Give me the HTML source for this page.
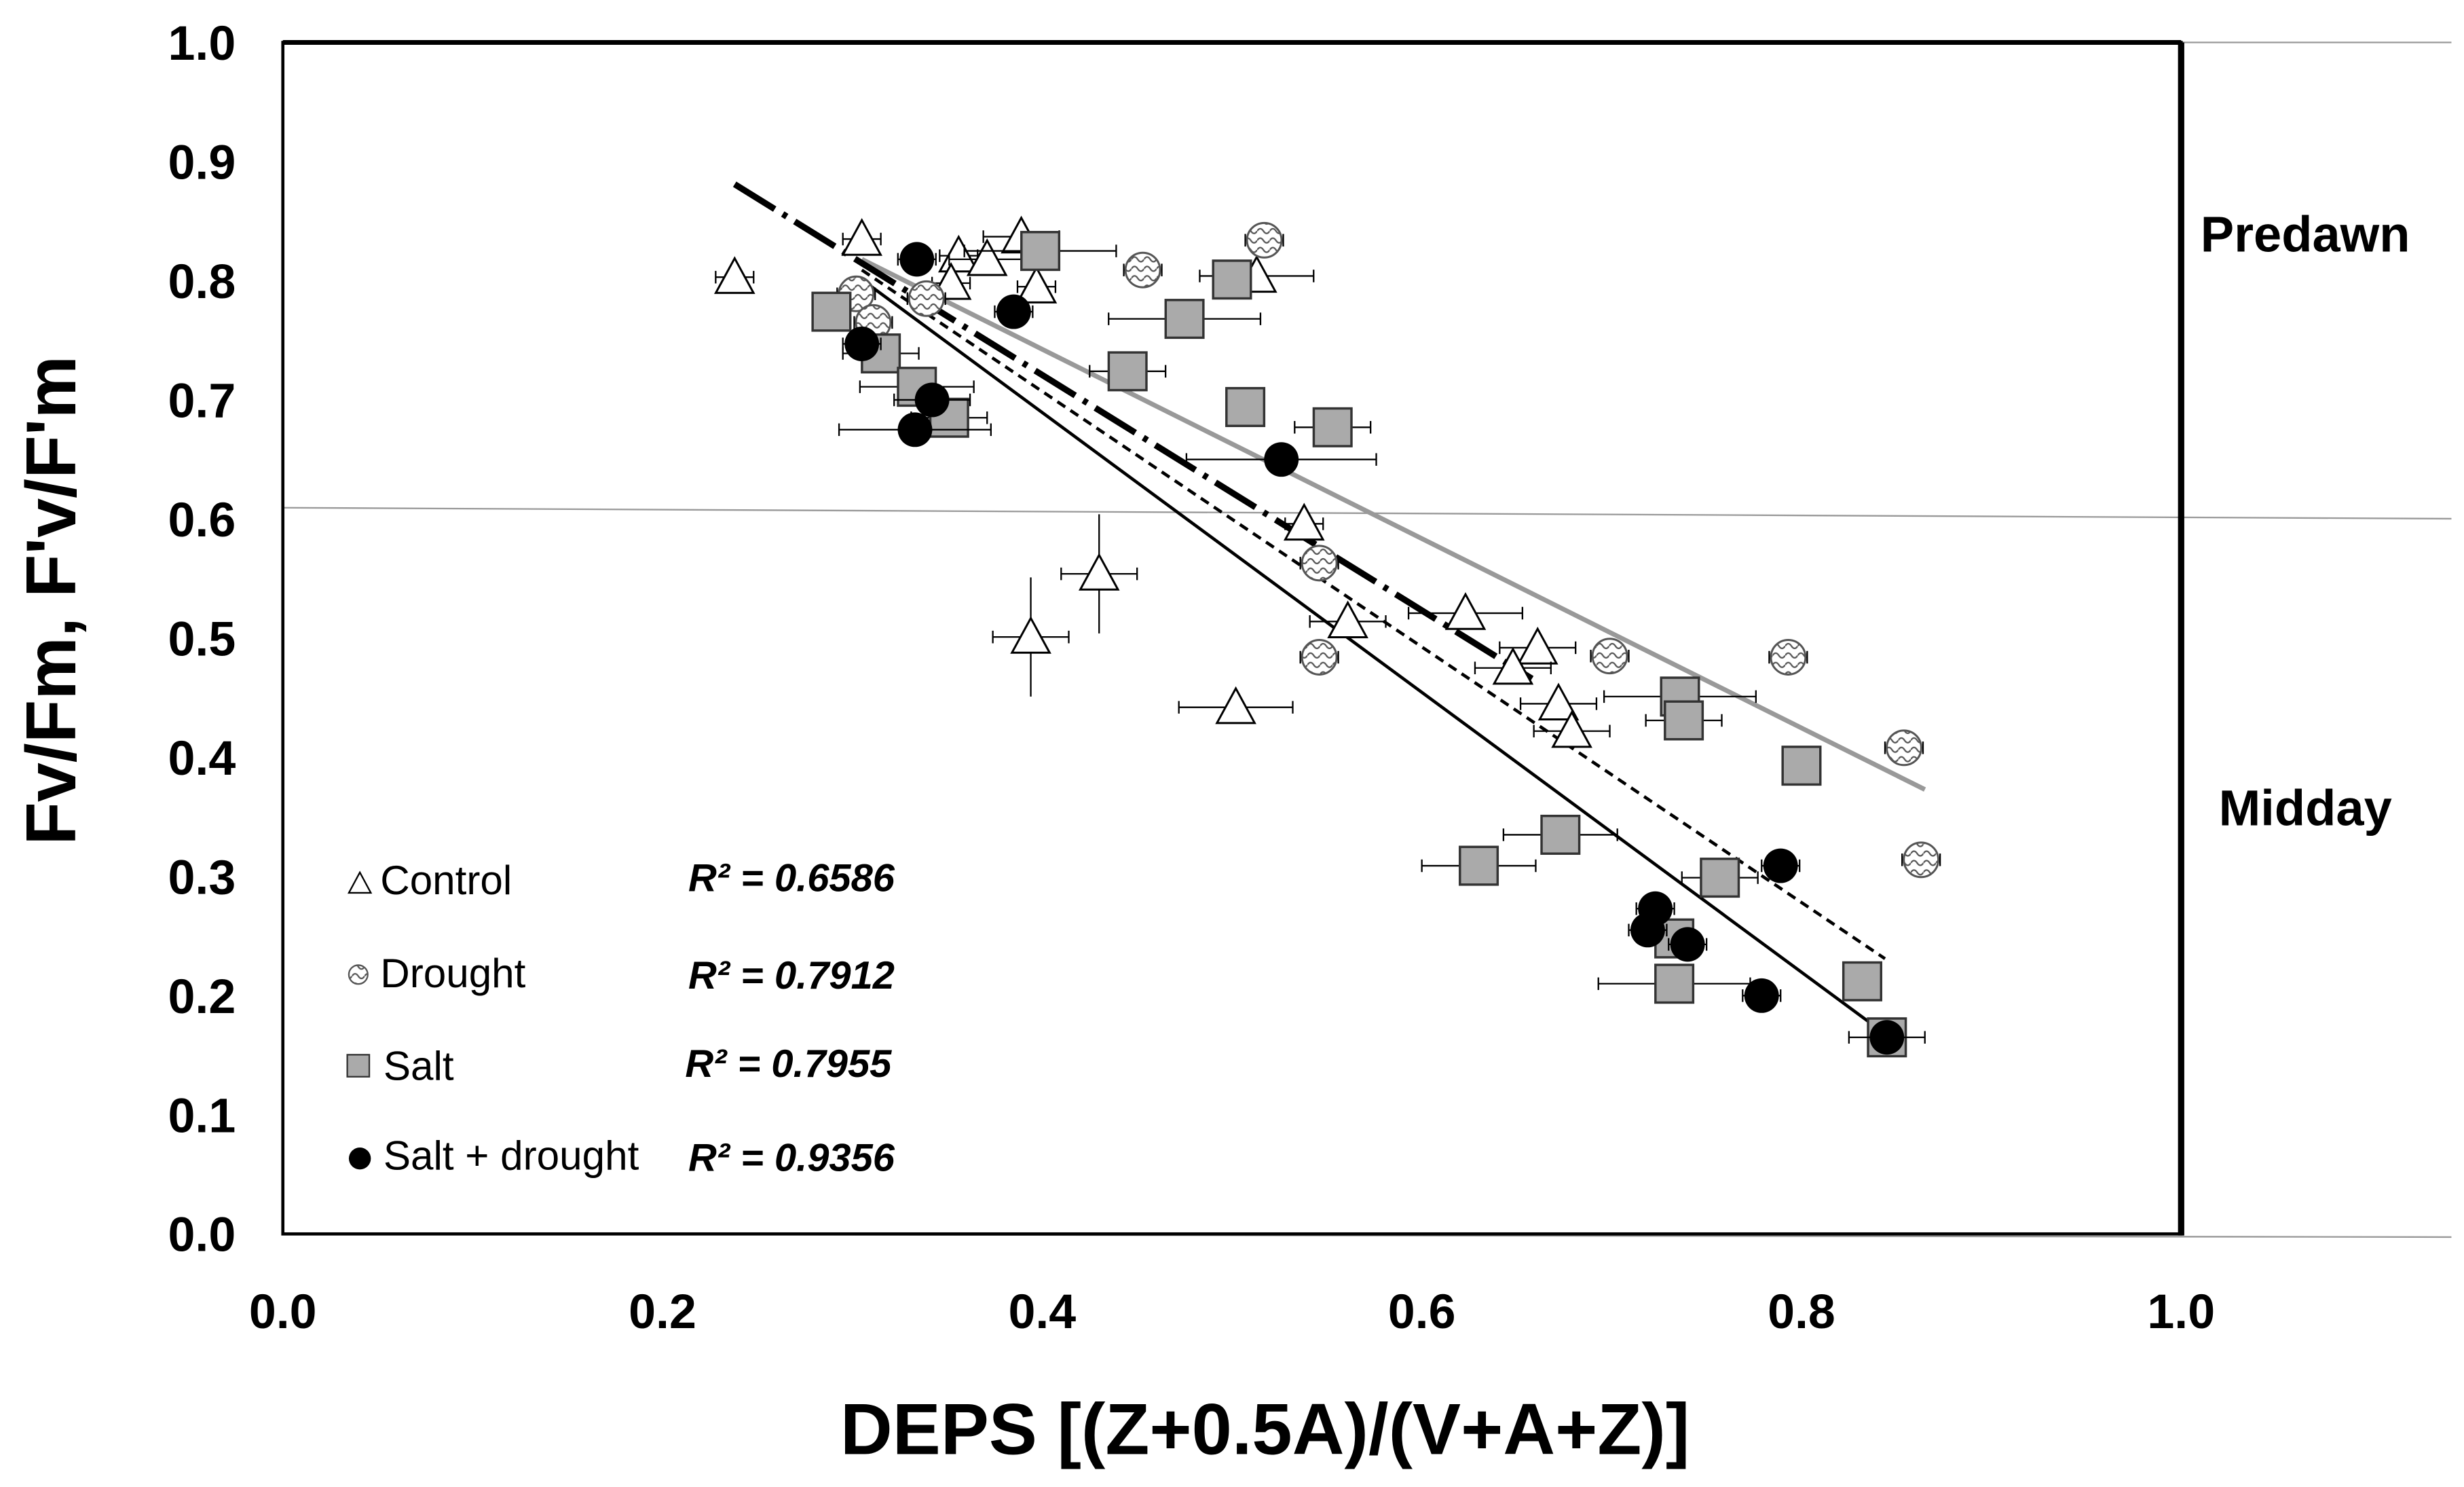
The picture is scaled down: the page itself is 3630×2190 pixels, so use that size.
<!DOCTYPE html>
<html><head><meta charset="utf-8"><style>
html,body{margin:0;padding:0;background:#fff}
svg{display:block}
text{font-family:"Liberation Sans",Arial,sans-serif}
</style></head><body>
<svg id="chart" width="3630" height="2190" viewBox="0 0 1568 946" preserveAspectRatio="none">
<defs>
<pattern id="wave" width="8" height="6" patternUnits="userSpaceOnUse">
<rect width="8" height="6" fill="#fff"/>
<path d="M0 3 Q2 0 4 3 T8 3" fill="none" stroke="#555" stroke-width="1"/>
</pattern>
</defs>
<g id="grid">
<line x1="180" y1="27" x2="1560" y2="27" stroke="#999" stroke-width="1"/>
<line x1="180" y1="323" x2="1560" y2="330" stroke="#999" stroke-width="1"/>
<line x1="180" y1="785" x2="1560" y2="787" stroke="#999" stroke-width="1"/>
</g>
<rect x="180" y="27" width="1208" height="758" fill="none" stroke="#000" stroke-width="2"/>
<line x1="1388" y1="27" x2="1388" y2="786" stroke="#000" stroke-width="4"/>
<line x1="180" y1="27" x2="1388" y2="27" stroke="#000" stroke-width="3"/>
<g id="ticks"></g>
<g id="lines"></g>
<g id="marks"></g>
<text x="805" y="925" text-anchor="middle" font-size="46" font-weight="bold">DEPS [(Z+0.5A)/(V+A+Z)]</text>
<text transform="translate(48,382) rotate(-90)" text-anchor="middle" font-size="45" font-weight="bold">Fv/Fm, F'v/F'm</text>
<text x="1467" y="160" text-anchor="middle" font-size="32" font-weight="bold">Predawn</text>
<text x="1467" y="525" text-anchor="middle" font-size="32" font-weight="bold">Midday</text>
<g id="legend" font-size="26">
<g><polygon points="222,568 229,555 236,568" fill="#fff" stroke="#000"/><text x="242" y="569">Control</text><text x="438" y="567" font-size="25" font-weight="bold" font-style="italic">R² = 0.6586</text></g>
<g><circle cx="228" cy="620" r="6" fill="url(#wave)" stroke="#555"/><text x="242" y="628">Drought</text><text x="438" y="629" font-size="25" font-weight="bold" font-style="italic">R² = 0.7912</text></g>
<g><rect x="221" y="671" width="14" height="14" fill="#aaa" stroke="#333"/><text x="244" y="687">Salt</text><text x="436" y="685" font-size="25" font-weight="bold" font-style="italic">R² = 0.7955</text></g>
<g><circle cx="229" cy="737" r="7" fill="#000"/><text x="244" y="744">Salt + drought</text><text x="438" y="745" font-size="25" font-weight="bold" font-style="italic">R² = 0.9356</text></g>
</g>
</svg>
<script>
const xTicks=[0,0.2,0.4,0.6,0.8,1.0];
const yTicks=[0,0.1,0.2,0.3,0.4,0.5,0.6,0.7,0.8,0.9,1.0];
const controlX=[0.238,0.305,0.356,0.371,0.389,0.352,0.397,0.513,0.430,0.394,0.502,0.538,0.561,0.623,0.661,0.648,0.672,0.679];
const controlY=[0.803,0.835,0.821,0.818,0.837,0.798,0.795,0.804,0.554,0.501,0.442,0.596,0.514,0.521,0.492,0.475,0.445,0.422];
const controlErr=[0.01,0.01,0.01,0.02,0.02,0.01,0.01,0.03,0.02,0.02,0.03,0.01,0.02,0.03,0.02,0.02,0.02,0.02];
const controlYErr=[0,0,0,0,0,0,0,0,0.05,0.05,0,0,0,0,0,0,0,0];
const droughtX=[0.302,0.339,0.311,0.453,0.517,0.546,0.546,0.699,0.793,0.854,0.863];
const droughtY=[0.789,0.785,0.765,0.809,0.834,0.563,0.484,0.485,0.484,0.408,0.314];
const droughtErr=[0.01,0.01,0.01,0.01,0.01,0.01,0.01,0.01,0.01,0.01,0.01];
const saltX=[0.289,0.315,0.334,0.351,0.399,0.475,0.500,0.445,0.507,0.553,0.630,0.673,0.736,0.738,0.733,0.733,0.757,0.800,0.832,0.845];
const saltY=[0.774,0.739,0.711,0.685,0.825,0.768,0.801,0.724,0.694,0.677,0.309,0.335,0.451,0.431,0.248,0.210,0.299,0.393,0.212,0.165];
const saltErr=[0.01,0.02,0.03,0.02,0.04,0.04,0.01,0.02,0.01,0.02,0.03,0.03,0.04,0.02,0.01,0.04,0.02,0.01,0.01,0.01];
const sdX=[0.334,0.305,0.342,0.333,0.385,0.526,0.789,0.723,0.719,0.740,0.779,0.845];
const sdY=[0.818,0.747,0.700,0.675,0.774,0.650,0.309,0.273,0.255,0.243,0.200,0.165];
const sdErr=[0.01,0.01,0.02,0.04,0.01,0.05,0.01,0.01,0.01,0.01,0.01,0.02];
const trendX1=[0.305,0.305,0.305,0.238];
const trendY1=[0.818,0.801,0.809,0.881];
const trendX2=[0.865,0.844,0.844,0.658];
const trendY2=[0.373,0.168,0.231,0.466];
const NS="http://www.w3.org/2000/svg";
const sx=v=>180+v*1208, sy=v=>785-v*758;
function mk(tag,attrs,parent){const e=document.createElementNS(NS,tag);for(const k in attrs)e.setAttribute(k,attrs[k]);parent.appendChild(e);return e;}
const tg=document.getElementById('ticks');
xTicks.forEach(v=>{const t=mk('text',{x:sx(v),y:845,'text-anchor':'middle','font-size':31,'font-weight':'bold'},tg);t.textContent=v.toFixed(1);

});
yTicks.forEach(v=>{const t=mk('text',{x:150,y:sy(v)+11,'text-anchor':'end','font-size':31,'font-weight':'bold'},tg);t.textContent=v.toFixed(1);

});
const lg=document.getElementById('lines');
const styles=[{stroke:'#999','stroke-width':3},{stroke:'#000','stroke-width':2},{stroke:'#000','stroke-width':2,'stroke-dasharray':'6 4'},{stroke:'#000','stroke-width':4,'stroke-dasharray':'30 6 3 6'}];
const tnames=['trend-drought','trend-salt-drought','trend-salt','trend-control'];
trendX1.forEach((v,i)=>{const l=mk('line',Object.assign({x1:sx(v),y1:sy(trendY1[i]),x2:sx(trendX2[i]),y2:sy(trendY2[i])},styles[i]),lg);

});
const mg=document.getElementById('marks');
function series(xs,ys,errs,kind,name,yerrs){xs.forEach((v,i)=>{const g=mk('g',{},mg);


const cx=sx(v),cy=sy(ys[i]),e=errs[i]*1208;
mk('line',{x1:cx-e,y1:cy,x2:cx+e,y2:cy,stroke:'#000','stroke-width':1},g);
mk('line',{x1:cx-e,y1:cy-4,x2:cx-e,y2:cy+4,stroke:'#000'},g);
mk('line',{x1:cx+e,y1:cy-4,x2:cx+e,y2:cy+4,stroke:'#000'},g);
if(yerrs&&yerrs[i]){const ey=yerrs[i]*758;mk('line',{x1:cx,y1:cy-ey,x2:cx,y2:cy+ey,stroke:'#000'},g);}
if(kind==='tri')mk('polygon',{points:`${cx-12},${cy+10} ${cx},${cy-12} ${cx+12},${cy+10}`,fill:'#fff',stroke:'#000','stroke-width':1.3},g);
else if(kind==='wave')mk('circle',{cx:cx,cy:cy,r:11,fill:'url(#wave)',stroke:'#555','stroke-width':1.3},g);
else if(kind==='sq')mk('rect',{x:cx-12,y:cy-12,width:24,height:24,fill:'#aaa',stroke:'#333','stroke-width':1.5},g);
else mk('circle',{cx:cx,cy:cy,r:11,fill:'#000'},g);});}
series(controlX,controlY,controlErr,'tri','control',controlYErr);
series(droughtX,droughtY,droughtErr,'wave','drought');
series(saltX,saltY,saltErr,'sq','salt');
series(sdX,sdY,sdErr,'dot','salt-drought');
</script>
</body></html>
